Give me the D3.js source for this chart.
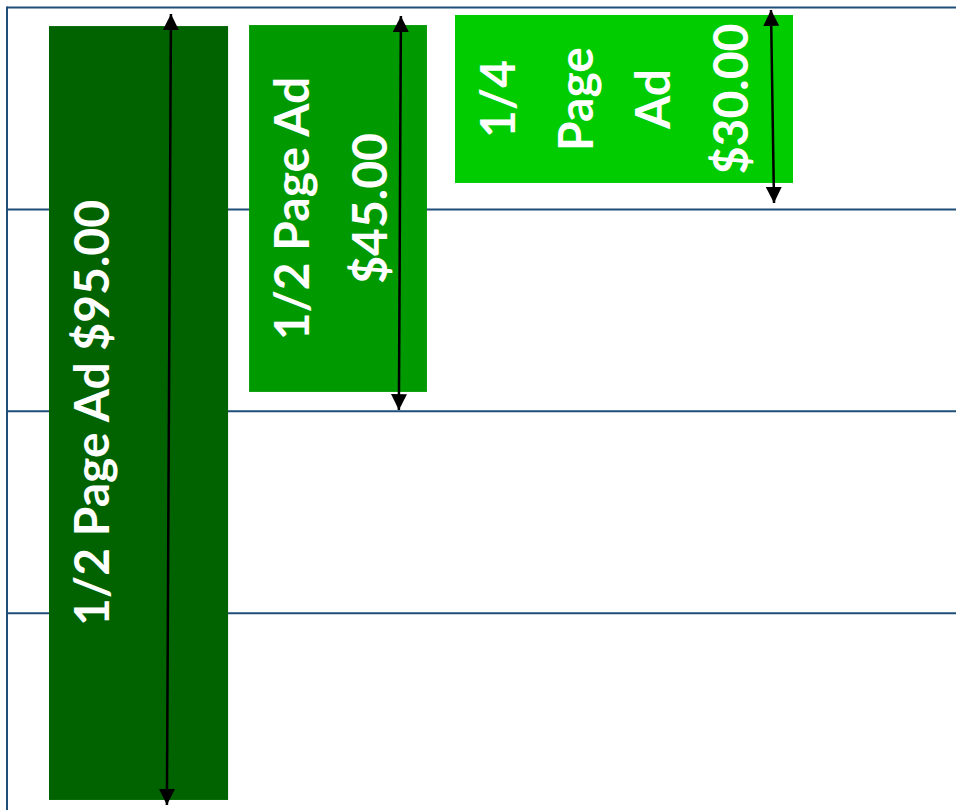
<!DOCTYPE html>
<html>
<head>
<meta charset="utf-8">
<script src="https://cdn.jsdelivr.net/npm/d3@7/dist/d3.min.js"></script>
<style>
  html, body { margin: 0; padding: 0; background: #ffffff; }
  svg { display: block; }
</style>
</head>
<body>
<svg id="chart" width="956" height="810"></svg>
<script>
// ---- data (in page-grid units: one grid row = 1) ----
const adNames   = ["1/2 Page Ad", "1/2 Page Ad", "1/4 Page Ad"];
const adPrices  = [95, 45, 30];
const adLabelLines = [
  ["1/2 Page Ad $95.00"],
  ["1/2 Page Ad", "$45.00"],
  ["1/4", "Page", "Ad", "$30.00"]
];
const adX0 = [0.208, 1.199, 2.219];
const adX1 = [1.095, 2.080, 3.893];
const adY0 = [0.092, 0.087, 0.037];
const adY1 = [3.925, 1.904, 0.869];
// arrows (start at top, end at bottom)
const arrowX0 = [0.812, 1.951, 3.784];
const arrowY0 = [0.032, 0.042, 0.012];
const arrowX1 = [0.792, 1.941, 3.799];
const arrowY1 = [3.950, 1.994, 0.968];
// grid rows
const gridRows = [0, 1, 2, 3];

const colors = ["#006300", "#009900", "#00cc00"];

const svg = d3.select("#chart");
const W = 956, H = 810;
const unit = 201.9;
const x = d3.scaleLinear().domain([0, 1]).range([7, 7 + unit]);
const y = d3.scaleLinear().domain([0, 1]).range([7.5, 7.5 + unit]);

// grid
const grid = svg.append("g");
grid.selectAll("line.h").data(gridRows).join("line")
  .attr("x1", x(0)).attr("x2", W)
  .attr("y1", d => y(d)).attr("y2", d => y(d))
  .attr("stroke", "#1f4e79").attr("stroke-width", 2);
grid.append("line")
  .attr("x1", x(0)).attr("x2", x(0))
  .attr("y1", y(0) - 1).attr("y2", H)
  .attr("stroke", "#1f4e79").attr("stroke-width", 2);

const ads = adNames.map((n, i) => ({
  name: n, price: adPrices[i], lines: adLabelLines[i],
  x0: adX0[i], x1: adX1[i], y0: adY0[i], y1: adY1[i], color: colors[i]
}));

// bars
svg.append("g").selectAll("rect").data(ads).join("rect")
  .attr("x", d => x(d.x0)).attr("y", d => y(d.y0))
  .attr("width", d => x(d.x1) - x(d.x0))
  .attr("height", d => y(d.y1) - y(d.y0))
  .attr("fill", d => d.color);

// labels (rotated)
const labelG = svg.append("g");
ads.forEach(d => {
  const cy = (y(d.y0) + y(d.y1)) / 2;
  d.lines.forEach((line, j) => {
    const bx = x(d.x0) + 60 + j * 77.5;
    labelG.append("text")
      .attr("transform", `translate(${bx},${cy}) rotate(-90)`)
      .attr("text-anchor", "middle")
      .attr("font-family", "Lato, 'Open Sans', sans-serif")
      .attr("font-weight", "bold")
      .attr("font-size", 48)
      .attr("fill", "#ffffff")
      .text(line);
  });
});

// arrows
const defs = svg.append("defs");
defs.append("marker").attr("id", "ah")
  .attr("viewBox", "0 0 10 10").attr("refX", 10).attr("refY", 5)
  .attr("markerWidth", 16).attr("markerHeight", 16)
  .attr("markerUnits", "userSpaceOnUse")
  .attr("orient", "auto-start-reverse")
  .append("path").attr("d", "M0,0 L10,5 L0,10 Z").attr("fill", "#000");

const arrows = arrowX0.map((v, i) => ({ x0: v, y0: arrowY0[i], x1: arrowX1[i], y1: arrowY1[i] }));
svg.append("g").selectAll("line").data(arrows).join("line")
  .attr("x1", d => x(d.x0)).attr("y1", d => y(d.y0))
  .attr("x2", d => x(d.x1)).attr("y2", d => y(d.y1))
  .attr("stroke", "#000").attr("stroke-width", 2.5)
  .attr("marker-start", "url(#ah)").attr("marker-end", "url(#ah)");
</script>
</body>
</html>
